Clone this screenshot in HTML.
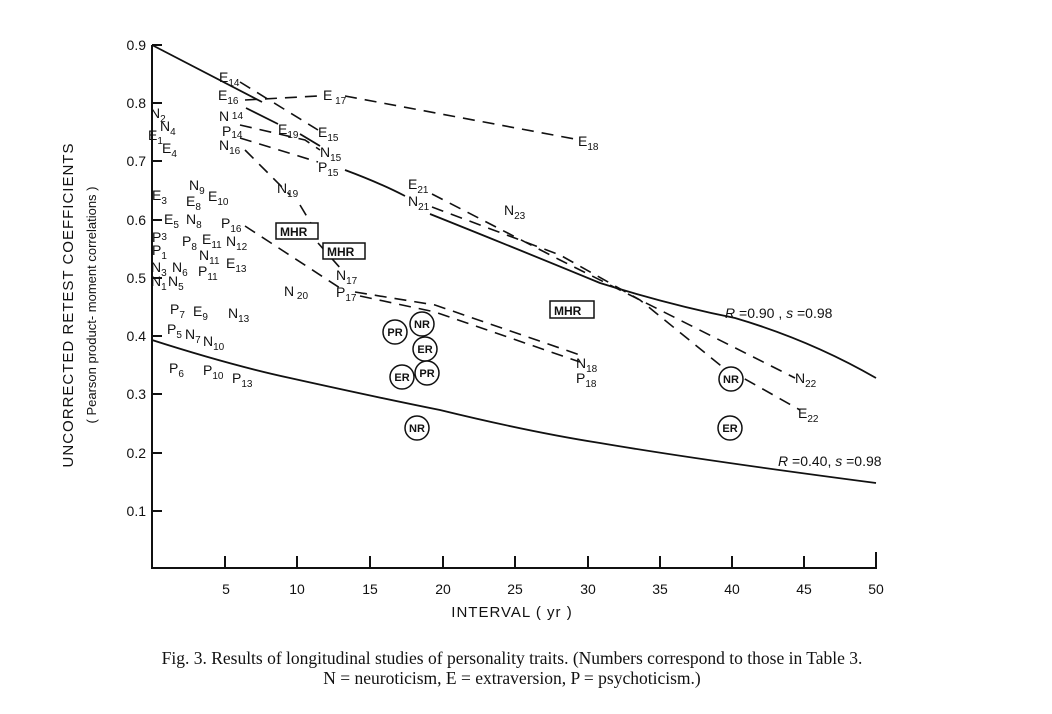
<!DOCTYPE html>
<html><head><meta charset="utf-8"><style>
body{margin:0;background:#fff;}
svg{display:block;font-family:"Liberation Sans",sans-serif;}
.l{font-size:14px;fill:#111;}
.s{font-size:10px;}
.t{font-size:14px;fill:#111;}
</style></head><body>
<svg width="1052" height="714" viewBox="0 0 1052 714">
<g stroke="#111" stroke-width="2" fill="none">
<path d="M152 45 V568 H877"/>
<path d="M152 45 H162 M152 103 H162 M152 161 H162 M152 220 H162 M152 278 H162 M152 336 H162 M152 394 H162 M152 453 H162 M152 511 H162"/>
<path d="M225 568 V556 M297 568 V556 M370 568 V556 M443 568 V556 M515 568 V556 M588 568 V556 M660 568 V556 M732 568 V556 M804 568 V556 M876 568 V552"/>
</g>
<g class="t" text-anchor="end">
<text x="146" y="50">0.9</text><text x="146" y="108">0.8</text><text x="146" y="166">0.7</text><text x="146" y="225">0.6</text><text x="146" y="283">0.5</text><text x="146" y="341">0.4</text><text x="146" y="399">0.3</text><text x="146" y="458">0.2</text><text x="146" y="516">0.1</text>
</g>
<g class="t" text-anchor="middle">
<text x="226" y="594">5</text><text x="297" y="594">10</text><text x="370" y="594">15</text><text x="443" y="594">20</text><text x="515" y="594">25</text><text x="588" y="594">30</text><text x="660" y="594">35</text><text x="732" y="594">40</text><text x="804" y="594">45</text><text x="876" y="594">50</text>
<text x="512" y="617" font-size="15" letter-spacing="1">INTERVAL  ( yr )</text>
</g>
<text transform="translate(73,305) rotate(-90)" text-anchor="middle" font-size="15" letter-spacing="1" fill="#111">UNCORRECTED RETEST COEFFICIENTS</text>
<text transform="translate(96,305) rotate(-90)" text-anchor="middle" font-size="13" fill="#111">( Pearson product- moment correlations )</text>
<g stroke="#111" stroke-width="1.8" fill="none">
<path d="M152 45 L262 102"/>
<path d="M246 108 L278 124 M300 134 L320 146"/>
<path d="M345 170 Q380 183 405 196"/>
<path d="M430 214 Q520 250 600 283 Q670 305 735 318 Q810 340 876 378"/>
<path d="M152 340 Q230 365 290 378 Q380 398 440 410 Q530 432 600 443 Q700 460 876 483"/>
</g>
<g stroke="#111" stroke-width="1.6" fill="none" stroke-dasharray="12,8">
<path d="M245 100 L318 96 M345 96 L580 140"/>
<path d="M240 82 L318 130"/>
<path d="M240 125 L305 140 L320 150"/>
<path d="M240 138 L318 162"/>
<path d="M245 150 L290 195 M300 205 L312 225 M318 243 L342 270"/>
<path d="M245 226 L340 288 M360 296 L435 312 L580 362"/>
<path d="M355 292 L435 305 L580 355"/>
<path d="M432 194 L560 260 L640 300 L795 378"/>
<path d="M432 207 L560 255 L640 300 L720 365 L800 410"/>
</g>
<g class="l">
<text x="219" y="82">E<tspan class="s" dy="4">14</tspan></text>
<text x="218" y="100">E<tspan class="s" dy="4">16</tspan></text>
<text x="323" y="100">E<tspan class="s" dy="4"> 17</tspan></text>
<text x="578" y="146">E<tspan class="s" dy="4">18</tspan></text>
<text x="219" y="121">N<tspan class="s" dy="-2"> 14</tspan></text>
<text x="222" y="136">P<tspan class="s" dy="2">14</tspan></text>
<text x="219" y="150">N<tspan class="s" dy="4">16</tspan></text>
<text x="278" y="134">E<tspan class="s" dy="4">19</tspan></text>
<text x="318" y="137">E<tspan class="s" dy="4">15</tspan></text>
<text x="320" y="157">N<tspan class="s" dy="4">15</tspan></text>
<text x="318" y="172">P<tspan class="s" dy="4">15</tspan></text>
<text x="277" y="193">N<tspan class="s" dy="4">19</tspan></text>
<text x="408" y="189">E<tspan class="s" dy="4">21</tspan></text>
<text x="408" y="206">N<tspan class="s" dy="4">21</tspan></text>
<text x="504" y="215">N<tspan class="s" dy="4">23</tspan></text>
<text x="150" y="118">N<tspan class="s" dy="4">2</tspan></text>
<text x="160" y="131">N<tspan class="s" dy="4">4</tspan></text>
<text x="148" y="140">E<tspan class="s" dy="4">1</tspan></text>
<text x="162" y="153">E<tspan class="s" dy="4">4</tspan></text>
<text x="152" y="200">E<tspan class="s" dy="4">3</tspan></text>
<text x="189" y="190">N<tspan class="s" dy="4">9</tspan></text>
<text x="208" y="201">E<tspan class="s" dy="4">10</tspan></text>
<text x="186" y="206">E<tspan class="s" dy="4">8</tspan></text>
<text x="164" y="224">E<tspan class="s" dy="4">5</tspan></text>
<text x="186" y="224">N<tspan class="s" dy="4">8</tspan></text>
<text x="221" y="228">P<tspan class="s" dy="4">16</tspan></text>
<text x="152" y="242">P<tspan class="s" dy="-2">3</tspan></text>
<text x="152" y="255">P<tspan class="s" dy="4">1</tspan></text>
<text x="182" y="246">P<tspan class="s" dy="4">8</tspan></text>
<text x="202" y="244">E<tspan class="s" dy="4">11</tspan></text>
<text x="226" y="246">N<tspan class="s" dy="4">12</tspan></text>
<text x="199" y="260">N<tspan class="s" dy="4">11</tspan></text>
<text x="226" y="268">E<tspan class="s" dy="4">13</tspan></text>
<text x="151" y="272">N<tspan class="s" dy="4">3</tspan></text>
<text x="172" y="272">N<tspan class="s" dy="4">6</tspan></text>
<text x="198" y="276">P<tspan class="s" dy="4">11</tspan></text>
<text x="151" y="286">N<tspan class="s" dy="4">1</tspan></text>
<text x="168" y="286">N<tspan class="s" dy="4">5</tspan></text>
<text x="284" y="296">N<tspan class="s" dy="3"> 20</tspan></text>
<text x="336" y="280">N<tspan class="s" dy="4">17</tspan></text>
<text x="336" y="297">P<tspan class="s" dy="4">17</tspan></text>
<text x="170" y="314">P<tspan class="s" dy="4">7</tspan></text>
<text x="193" y="316">E<tspan class="s" dy="4">9</tspan></text>
<text x="228" y="318">N<tspan class="s" dy="4">13</tspan></text>
<text x="167" y="334">P<tspan class="s" dy="4">5</tspan></text>
<text x="185" y="339">N<tspan class="s" dy="4">7</tspan></text>
<text x="203" y="346">N<tspan class="s" dy="4">10</tspan></text>
<text x="169" y="373">P<tspan class="s" dy="4">6</tspan></text>
<text x="203" y="375">P<tspan class="s" dy="4">10</tspan></text>
<text x="232" y="383">P<tspan class="s" dy="4">13</tspan></text>
<text x="576" y="368">N<tspan class="s" dy="4">18</tspan></text>
<text x="576" y="383">P<tspan class="s" dy="4">18</tspan></text>
<text x="795" y="383">N<tspan class="s" dy="4">22</tspan></text>
<text x="798" y="418">E<tspan class="s" dy="4">22</tspan></text>
<text x="725" y="318" font-style="italic">R<tspan font-style="normal"> =0.90 , </tspan>s<tspan font-style="normal"> =0.98</tspan></text>
<text x="778" y="466" font-style="italic">R<tspan font-style="normal"> =0.40,  </tspan>s<tspan font-style="normal"> =0.98</tspan></text>
</g>
<g font-size="12" font-weight="bold" fill="#111">
<rect x="276" y="223" width="42" height="16" fill="#fff" stroke="#111" stroke-width="1.5"/><text x="280" y="236">MHR</text>
<rect x="323" y="243" width="42" height="16" fill="#fff" stroke="#111" stroke-width="1.5"/><text x="327" y="256">MHR</text>
<rect x="550" y="301" width="44" height="17" fill="#fff" stroke="#111" stroke-width="1.5"/><text x="554" y="315">MHR</text>
</g>
<g font-size="11" font-weight="bold" fill="#111" text-anchor="middle">
<g stroke="#111" stroke-width="1.5" fill="#fff">
<circle cx="395" cy="332" r="12"/><circle cx="422" cy="324" r="12"/><circle cx="425" cy="349" r="12"/>
<circle cx="402" cy="377" r="12"/><circle cx="427" cy="373" r="12"/><circle cx="417" cy="428" r="12"/>
<circle cx="731" cy="379" r="12"/><circle cx="730" cy="428" r="12"/>
</g>
<text x="395" y="336">PR</text><text x="422" y="328">NR</text><text x="425" y="353">ER</text>
<text x="402" y="381">ER</text><text x="427" y="377">PR</text><text x="417" y="432">NR</text>
<text x="731" y="383">NR</text><text x="730" y="432">ER</text>
</g>
<g font-family="Liberation Serif,serif" font-size="17.5" fill="#111" text-anchor="middle">
<text x="512" y="664">Fig. 3. Results of longitudinal studies of personality traits. (Numbers correspond to those in Table 3.</text>
<text x="512" y="684">N = neuroticism, E = extraversion, P = psychoticism.)</text>
</g>
</svg>
</body></html>
